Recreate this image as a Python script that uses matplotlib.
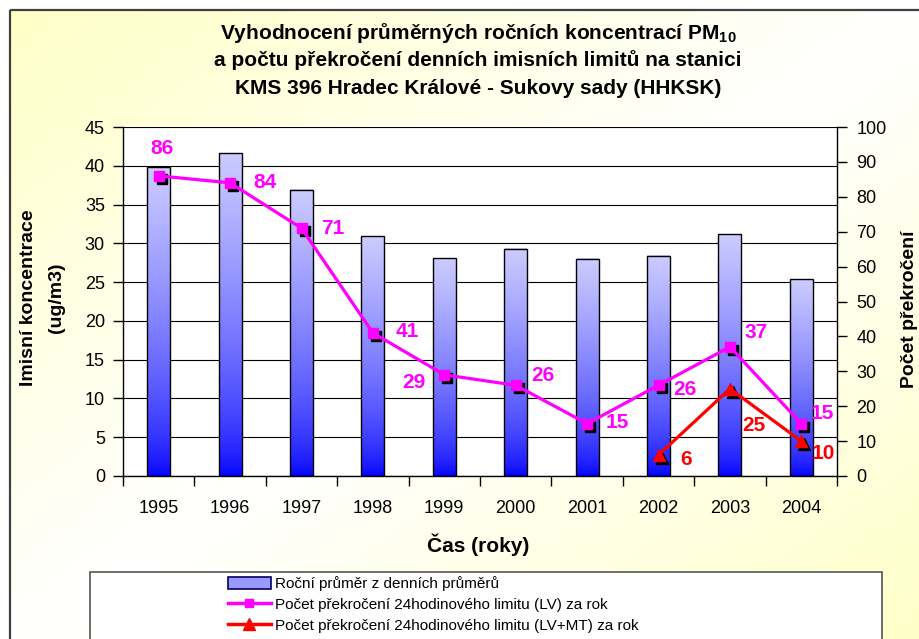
import numpy as np
import matplotlib
matplotlib.use("Agg")
import matplotlib.pyplot as plt
from matplotlib.patches import Rectangle, Patch
from matplotlib.lines import Line2D
from matplotlib.transforms import offset_copy

plt.rcParams['font.family'] = ['Liberation Sans', 'DejaVu Sans']
plt.rcParams['mathtext.fontset'] = 'custom'
plt.rcParams['mathtext.bf'] = 'Liberation Sans:bold'

# data
years = ['1995', '1996', '1997', '1998', '1999', '2000', '2001', '2002', '2003', '2004']
annual_mean = [39.8, 41.6, 36.9, 30.9, 28.1, 29.3, 28.0, 28.4, 31.2, 25.4]
exceed_lv = [86, 84, 71, 41, 29, 26, 15, 26, 37, 15]
lvmt_years = ['2002', '2003', '2004']
exceed_lvmt = [6, 25, 10]

# label offsets in pixels (dx, dy up)
lv_offsets = [(3, 27), (35, 0), (31, 0), (34, 1), (-30, -8), (27, 10), (30, 1), (26, -4), (26, 14), (21, 10)]
lvmt_offsets = [(28, -4), (24, -37), (22, -12)]

W, H = 919, 639
def fx(px):
    return px / W
def fy(py):
    return 1 - py / H

fig = plt.figure(figsize=(W / 100, H / 100), dpi=100)

# background of the chart area: diagonal yellow-white-yellow gradient
ax_bg = fig.add_axes([0, 0, 1, 1], zorder=-1)
gx, gy = np.meshgrid(np.linspace(0, 1, 200), np.linspace(0, 1, 200))
f = np.abs((gx + gy) - 1.0)
yellow = np.array([1.0, 1.0, 0.78])
bg = 1 - f[..., None] * (1 - yellow)
ax_bg.imshow(bg, extent=(10, W + 10, H + 10, 10), aspect='auto', interpolation='bilinear')
ax_bg.add_patch(Rectangle((10, 10), W + 20, H + 20, fill=False, edgecolor='#404040', lw=1.6))
ax_bg.set_xlim(0, W)
ax_bg.set_ylim(H, 0)
ax_bg.axis('off')

ax = fig.add_axes([fx(123), fy(476), fx(837) - fx(123), fy(127) - fy(476)])
ax.set_facecolor('white')
x = np.arange(len(years))
bw = 0.32

t = np.linspace(0, 1, 256) ** 0.65
blue = np.array([0.0, 0.0, 1.0])
lav = np.array([0.80, 0.80, 1.0])
grad = (blue[None, :] + (lav - blue)[None, :] * t[:, None])[:, None, :]
for xi, h in zip(x, annual_mean):
    ax.imshow(grad, extent=(xi - bw / 2, xi + bw / 2, 0, h), aspect='auto',
              origin='lower', zorder=2, interpolation='bilinear')
    ax.add_patch(Rectangle((xi - bw / 2, 0), bw, h, fill=False, edgecolor='black', lw=1.0, zorder=3))

ax.set_xlim(-0.5, len(years) - 0.5)
ax.set_ylim(0, 45)
ax.set_yticks(np.arange(0, 46, 5))
ax.yaxis.grid(True, color='black', lw=0.8)
ax.set_axisbelow(True)
ax.set_xticks(np.arange(-0.5, len(years), 1))
ax.set_xticklabels([])
ax.set_xticks(x, minor=True)
ax.set_xticklabels(years, minor=True)
ax.tick_params(axis='x', which='major', direction='out', length=7, width=1)
ax.tick_params(axis='x', which='minor', length=0, pad=17, labelsize=13)
ax.tick_params(axis='y', direction='out', length=7, width=1, pad=6, labelsize=13)
for s in ['top', 'right']:
    ax.spines[s].set_visible(False)
ax.spines['left'].set_linewidth(1)
ax.spines['bottom'].set_linewidth(1)

ax2 = ax.twinx()
ax2.set_ylim(0, 100)
ax2.set_yticks(np.arange(0, 101, 10))
ax2.tick_params(axis='y', direction='out', length=7, width=1, pad=7, labelsize=13)
for s in ['top', 'left', 'bottom']:
    ax2.spines[s].set_visible(False)
ax2.spines['right'].set_linewidth(1)

shadow = offset_copy(ax2.transData, fig=fig, x=3, y=-3, units='dots')
xr = [years.index(y) for y in lvmt_years]

ax2.plot(x, exceed_lv, ls='none', marker='s', ms=7, mfc='black', mec='black', transform=shadow, zorder=3)
ax2.plot(xr, exceed_lvmt, ls='none', marker='^', ms=9, mfc='black', mec='black', transform=shadow, zorder=3)
ax2.plot(x, exceed_lv, color='#FF00FF', lw=2.3, marker='s', ms=7, mfc='#FF00FF', mec='#FF00FF', zorder=4)
ax2.plot(xr, exceed_lvmt, color='#FF0000', lw=2.3, marker='^', ms=9, mfc='#FF0000', mec='#FF0000', zorder=4)

for xi, v, (dx, dy) in zip(x, exceed_lv, lv_offsets):
    ax2.annotate(str(v), (xi, v), xytext=(dx, dy), textcoords='offset pixels',
                 ha='center', va='center', color='#FF00FF', fontsize=15, fontweight='bold', zorder=5)
for xi, v, (dx, dy) in zip(xr, exceed_lvmt, lvmt_offsets):
    ax2.annotate(str(v), (xi, v), xytext=(dx, dy), textcoords='offset pixels',
                 ha='center', va='center', color='#FF0000', fontsize=15, fontweight='bold', zorder=5)

# titles and axis labels
title = ["Vyhodnocení průměrných ročních koncentrací PM$_{\\mathbf{10}}$",
         "a počtu překročení denních imisních limitů na stanici",
         "KMS 396 Hradec Králové - Sukovy sady (HHKSK)"]
for line, py in zip(title, [33, 60, 88]):
    fig.text(fx(478), fy(py), line, ha='center', va='center', fontsize=15, fontweight='bold')

fig.text(fx(29), fy(298), "Imisní koncentrace", rotation=90, ha='center', va='center',
         fontsize=14, fontweight='bold')
fig.text(fx(57), fy(298), "(ug/m3)", rotation=90, ha='center', va='center',
         fontsize=14, fontweight='bold')
fig.text(fx(910), fy(309), "Počet překročení", rotation=90, ha='center', va='center',
         fontsize=14, fontweight='bold')
fig.text(fx(478), fy(545), "Čas (roky)", ha='center', va='center', fontsize=15, fontweight='bold')

# legend
fig.add_artist(Rectangle((fx(90), fy(660)), fx(882) - fx(90), fy(572) - fy(660),
                         transform=fig.transFigure, facecolor='white', edgecolor='#555555', lw=1.2))
handles = [Patch(facecolor='#9999FF', edgecolor='#000060', lw=1.2),
           Line2D([], [], color='#FF00FF', lw=2.5, marker='s', ms=6, mfc='#FF00FF', mec='#FF00FF'),
           Line2D([], [], color='#FF0000', lw=2.5, marker='^', ms=8, mfc='#FF0000', mec='#FF0000')]
labels = ["Roční průměr z denních průměrů",
          "Počet překročení 24hodinového limitu (LV) za rok",
          "Počet překročení 24hodinového limitu (LV+MT) za rok"]
fig.legend(handles, labels, loc='upper left', bbox_to_anchor=(fx(228), fy(576)), frameon=False,
           fontsize=11, handlelength=2.8, handleheight=0.8, labelspacing=0.45, handletextpad=0.3,
           borderpad=0, borderaxespad=0)

fig.savefig("out.png", dpi=100)
